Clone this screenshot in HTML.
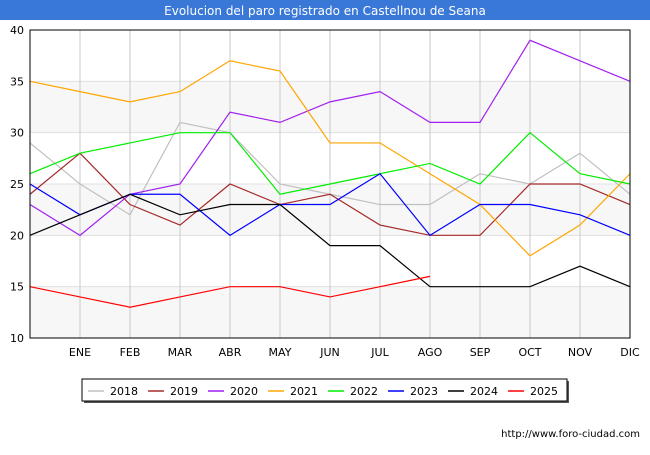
<!DOCTYPE html>
<html><head><meta charset="utf-8"><style>
body{margin:0;background:#fff;font-family:"Liberation Sans","DejaVu Sans",sans-serif}
</style></head><body>
<svg id="c" width="650" height="450" xmlns="http://www.w3.org/2000/svg" font-family="DejaVu Sans, Liberation Sans, sans-serif">
<rect x="0" y="0" width="650" height="20" fill="#3a78d8"/>
<text x="325" y="15" text-anchor="middle" fill="#fff" font-size="12">Evolucion del paro registrado en Castellnou de Seana</text>
<g id="plot"></g>
<text x="640" y="437" text-anchor="end" font-size="10" fill="#000">http://www.foro-ciudad.com</text>
</svg>
<script>
const months=["","ENE","FEB","MAR","ABR","MAY","JUN","JUL","AGO","SEP","OCT","NOV","DIC"];
const yTicks=[10,15,20,25,30,35,40];
const seriesNames=["2018","2019","2020","2021","2022","2023","2024","2025"];
const seriesColors=["#c0c0c0","#a52a2a","#a020f0","#ffa500","#00ee00","#0000ff","#000000","#ff0000"];
const s2018=[29,25,22,31,30,25,24,23,23,26,25,28,24];
const s2019=[24,28,23,21,25,23,24,21,20,20,25,25,23];
const s2020=[23,20,24,25,32,31,33,34,31,31,39,37,35];
const s2021=[35,34,33,34,37,36,29,29,26,23,18,21,26];
const s2022=[26,28,29,30,30,24,25,26,27,25,30,26,25];
const s2023=[25,22,24,24,20,23,23,26,20,23,23,22,20];
const s2024=[20,22,24,22,23,23,19,19,15,15,15,17,15];
const s2025=[15,14,13,14,15,15,14,15,16];
const allSeries=[s2018,s2019,s2020,s2021,s2022,s2023,s2024,s2025];
const NS="http://www.w3.org/2000/svg";
const X0=30,X1=630,Y0=338,Y1=30,YMIN=10,YMAX=40;
const xs=i=>X0+i*(X1-X0)/12;
const ys=v=>Y0-(v-YMIN)*(Y0-Y1)/(YMAX-YMIN);
const g=document.getElementById('plot');
function mk(t,a){const e=document.createElementNS(NS,t);for(const k in a)e.setAttribute(k,a[k]);return e;}
for(let k=0;k<yTicks.length-1;k++){
  if(k%2===0){const r=mk('rect',{x:X0,y:ys(yTicks[k+1]),width:X1-X0,height:ys(yTicks[k])-ys(yTicks[k+1]),fill:'#f7f7f7'});
  
  g.appendChild(r);}
}
yTicks.forEach(v=>{
  const l=mk('line',{x1:X0,x2:X1,y1:ys(v),y2:ys(v),stroke:'#e0e0e0'});
  
  g.appendChild(l);
  const t=mk('text',{x:X0-6,y:ys(v)+4,'text-anchor':'end','font-size':11});t.textContent=v;
  
  g.appendChild(t);
});
months.forEach((m,i)=>{
  if(i>0){const l=mk('line',{x1:xs(i),x2:xs(i),y1:Y1,y2:Y0,stroke:'#c8c8c8'});
  
  g.appendChild(l);}
  const t=mk('text',{x:xs(i),y:356,'text-anchor':'middle','font-size':11});t.textContent=m;
  
  g.appendChild(t);
});
allSeries.forEach((s,k)=>{
  const p=mk('polyline',{points:s.map((v,i)=>xs(i)+','+ys(v)).join(' '),fill:'none',stroke:seriesColors[k],'stroke-width':1.2});
  
  g.appendChild(p);
});
const fr=mk('rect',{x:X0,y:Y1,width:X1-X0,height:Y0-Y1,fill:'none',stroke:'#000'});

g.appendChild(fr);
const lg=mk('g',{});

g.appendChild(lg);
lg.appendChild(mk('rect',{x:84,y:381,width:485,height:22,fill:'#555'}));
lg.appendChild(mk('rect',{x:82,y:379,width:485,height:22,fill:'#fff',stroke:'#000'}));
seriesNames.forEach((n,k)=>{
  const x=88+k*60;
  const e=mk('g',{});
  
  
  e.appendChild(mk('line',{x1:x,x2:x+16,y1:391,y2:391,stroke:seriesColors[k],'stroke-width':1.5}));
  const t=mk('text',{x:x+22,y:395,'font-size':11});t.textContent=n;e.appendChild(t);
  lg.appendChild(e);
});
</script>
</body></html>
